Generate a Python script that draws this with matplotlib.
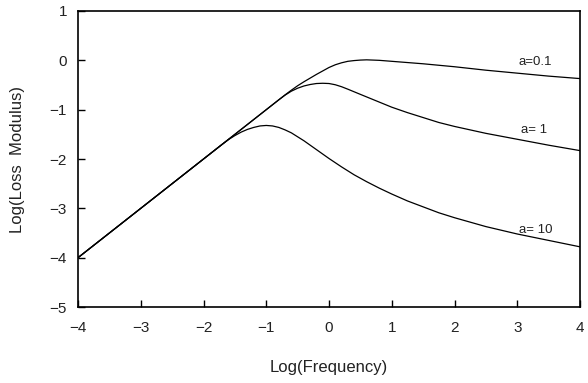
import matplotlib
matplotlib.use('Agg')
import matplotlib.pyplot as plt

plt.rcParams['font.family'] = ['Liberation Sans', 'DejaVu Sans']

# curves (log frequency, log loss modulus)
x_a01 = [-4.0, -2.0, -1.0, -0.7, -0.6, -0.5, -0.4, -0.3, -0.2, -0.1, 0.0, 0.1, 0.2, 0.3, 0.4, 0.5,
         0.6, 0.8, 1.0, 1.5, 2.0, 2.5, 3.0, 3.5, 4.0]
y_a01 = [-4.0, -2.0, -1.0, -0.70, -0.605, -0.515, -0.435, -0.36, -0.285, -0.215, -0.145, -0.09, -0.05,
         -0.02, -0.005, 0.005, 0.01, 0.0, -0.02, -0.07, -0.13, -0.20, -0.26, -0.32, -0.37]

x_a1 = [-4.0, -2.0, -1.0, -0.8, -0.7, -0.6, -0.5, -0.4, -0.3, -0.2, -0.1, 0.0, 0.1, 0.2, 0.3, 0.5,
        0.75, 1.0, 1.25, 1.5, 1.75, 2.0, 2.5, 3.0, 3.5, 4.0]
y_a1 = [-4.0, -2.0, -1.0, -0.80, -0.705, -0.625, -0.565, -0.52, -0.49, -0.47, -0.465, -0.47, -0.495,
        -0.535, -0.585, -0.69, -0.82, -0.95, -1.06, -1.16, -1.26, -1.34, -1.48, -1.60, -1.72, -1.83]

x_a10 = [-4.0, -2.0, -1.7, -1.6, -1.5, -1.4, -1.3, -1.2, -1.1, -1.0, -0.9, -0.8, -0.7, -0.6, -0.5,
         -0.4, -0.3, -0.2, -0.1, 0.0, 0.2, 0.4, 0.6, 0.8, 1.0, 1.25, 1.5, 1.75, 2.0, 2.5, 3.0, 3.5, 4.0]
y_a10 = [-4.0, -2.0, -1.70, -1.605, -1.525, -1.455, -1.40, -1.36, -1.33, -1.32, -1.33, -1.36, -1.41,
         -1.47, -1.55, -1.63, -1.72, -1.81, -1.90, -1.99, -2.16, -2.32, -2.46, -2.59, -2.71, -2.85,
         -2.97, -3.09, -3.19, -3.37, -3.52, -3.65, -3.78]

labels = ['a=0.1', 'a= 1', 'a= 10']
label_pos = [(3.28, -0.03), (3.27, -1.41), (3.30, -3.44)]

fig = plt.figure(figsize=(5.88, 3.83), dpi=100)
ax = fig.add_axes([0.1327, 0.1984, 0.8537, 0.7729])

for xs, ys in [(x_a01, y_a01), (x_a1, y_a1), (x_a10, y_a10)]:
    ax.plot(xs, ys, color='black', lw=0.9)

for lab, (lx, ly) in zip(labels, label_pos):
    ax.text(lx, ly, lab, fontsize=9.5, ha='center', va='center', color='#222222')

ax.set_xlim(-4, 4)
ax.set_ylim(-5, 1)
ax.set_xticks(range(-4, 5))
ax.set_yticks(range(-5, 2))
ax.tick_params(direction='in', length=5, width=1, labelsize=11, pad=8, labelcolor='#222222')
ax.tick_params(axis='x', pad=10)
for s in ax.spines.values():
    s.set_linewidth(1.2)

ax.set_xlabel('Log(Frequency)', fontsize=12, labelpad=18, color='#222222')
ax.set_ylabel('Log(Loss  Modulus)', fontsize=12, labelpad=18, color='#222222')

fig.savefig('out.png', dpi=100)
